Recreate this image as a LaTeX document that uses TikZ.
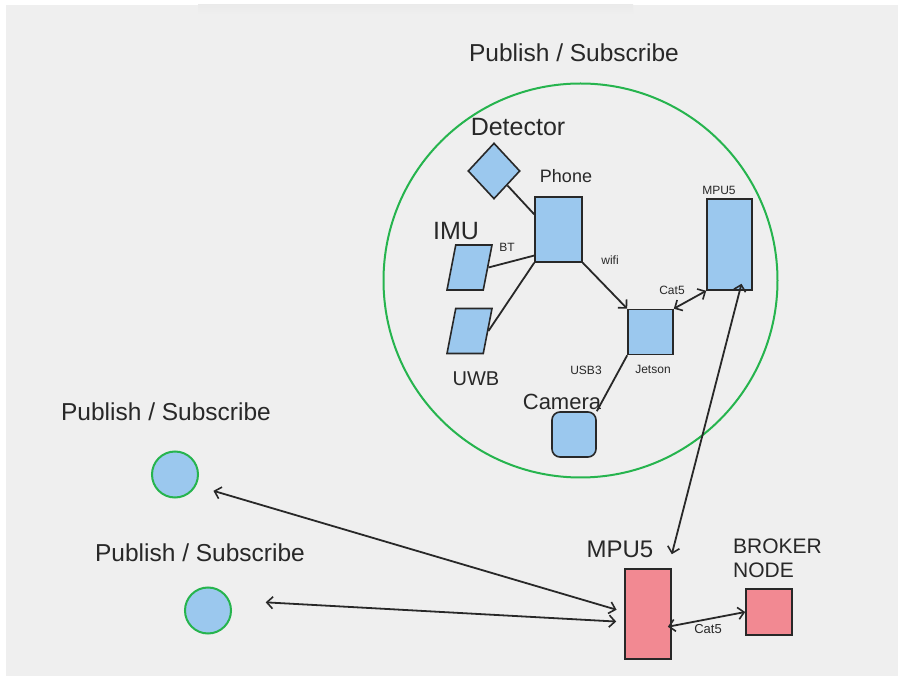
\documentclass[tikz,border=0pt]{standalone}
\usepackage{fontspec}
\setmainfont{Liberation Sans}
\usetikzlibrary{shapes.geometric,arrows.meta}
\definecolor{bggrey}{RGB}{239,239,239}
\definecolor{boxblue}{RGB}{155,200,238}
\definecolor{boxred}{RGB}{242,137,146}
\definecolor{ringgreen}{RGB}{38,180,78}
\definecolor{inkgrey}{RGB}{40,40,40}
\begin{document}
\begin{tikzpicture}
  [x=1pt,y=-1pt,>={Straight Barb[length=6pt,width=12pt,line width=1.6pt]},
   lab/.style={inner sep=0pt,text=inkgrey,font=\fontsize{#1}{#1}\selectfont},
   blue/.style={draw=inkgrey,line width=1.6pt,fill=boxblue,inner sep=0pt},
   red/.style={blue,fill=boxred},
   para/.style={blue,trapezium,trapezium left angle=79,trapezium right angle=101,
     inner xsep=13.75pt,inner ysep=22.5pt},
   diam/.style={blue,diamond,minimum width=52pt,minimum height=56pt},
   cam/.style={blue,rounded corners=8pt,minimum width=44pt,minimum height=45pt},
   ps/.style={circle,draw=ringgreen,line width=2pt,fill=boxblue,minimum size=46pt,inner sep=0pt},
   zone/.style={circle,draw=ringgreen,line width=2pt,minimum size=394pt,inner sep=0pt},
   link/.style={draw=inkgrey,line width=1.8pt}]
  \useasboundingbox (0,0) rectangle (898,676);
  \fill[bggrey] (6,5) rectangle (898,676);
  \shade[top color=black!8,bottom color=bggrey] (198,5) rectangle (633,15);

  % group inside the ring
  \node[lab=24.5] (ptop) at (574,53) {Publish / Subscribe};
  \node[zone] (zone) at (580.5,280.5) {};
  \node[diam] (det) at (494,171) {};
  \node[lab=25] (ldet) at (518,127) {Detector};
  \node[blue,minimum width=47pt,minimum height=65pt] (phone) at (558.5,229.5) {};
  \node[lab=18] (lphone) at (566,176) {Phone};
  \node[para] (imu) at (469.5,267.5) {};
  \node[lab=25] (limu) at (456,231) {IMU};
  \node[lab=12] (lbt) at (507,247) {BT};
  \node[para] (uwb) at (469.5,331) {};
  \node[lab=20] (luwb) at (476,379) {UWB};
  \node[blue,minimum size=45pt] (jetson) at (650.5,332) {};
  \node[lab=12] (ljet) at (653,369) {Jetson};
  \node[lab=12] (lwifi) at (610,260) {wifi};
  \node[blue,minimum width=45pt,minimum height=91pt] (mpuin) at (729.5,244.5) {};
  \node[lab=12] (lmpuin) at (719,190) {MPU5};
  \node[lab=12] (lcat) at (672,290) {Cat5};
  \node[cam] (cam) at (574,434.5) {};
  \node[lab=22] (lcam) at (562,402) {Camera};
  \node[lab=12] (lusb) at (586,370) {USB3};

  % bottom row
  \node[red,minimum width=46pt,minimum height=90pt] (mpuout) at (648,614) {};
  \node[lab=24] (lmpuout) at (620,549) {MPU5};
  \node[red,minimum size=46pt] (broker) at (769,612) {};
  \node[lab=21,font=\fontsize{21}{24}\selectfont,align=left,anchor=west] (lbroker) at (733,558) {BROKER\\NODE};
  \node[lab=13] (lcatb) at (708,629) {Cat5};
  \node[ps] (ps1) at (175,474.5) {};
  \node[lab=24.5] (lps1) at (166,412) {Publish / Subscribe};
  \node[ps] (ps2) at (208,610.5) {};
  \node[lab=24.5] (lps2) at (200,553) {Publish / Subscribe};

  \foreach \from/\to in {det.south east/phone.148, imu.east/phone.227,
      uwb.east/phone.south west, cam.north east/jetson.south west}
    \draw[link] (\from) -- (\to);
  \draw[link,->] (phone.south east) -- (jetson.north west);
  \draw[link,<->] (jetson.north east) -- (mpuin.south west);
  \draw[link,<->] ([xshift=12pt,yshift=7pt]mpuin.south) -- ([yshift=14pt]mpuout.north east);
  \draw[link,<->,shorten <=18pt,shorten >=8pt] (ps1.-28) -- ([yshift=2pt]mpuout.west);
  \draw[link,<->,shorten <=36pt,shorten >=8pt] (ps2.25) -- ([yshift=-8pt]mpuout.west);
  \draw[link,<->,shorten <=-4pt] ([yshift=-12pt]mpuout.east) -- (broker.west);
\end{tikzpicture}
\end{document}
